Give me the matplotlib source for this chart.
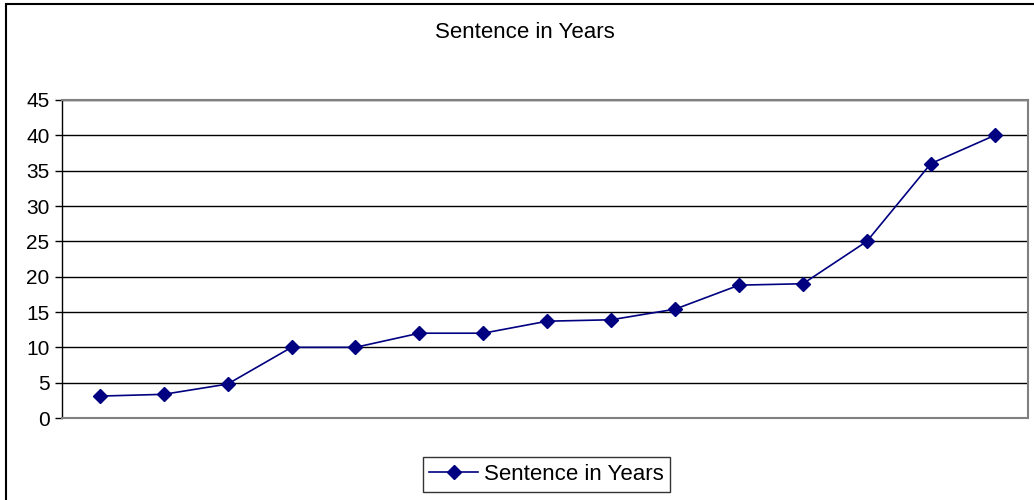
import matplotlib
matplotlib.use("Agg")
import matplotlib.pyplot as plt
from matplotlib.patches import Rectangle

plt.rcParams["font.family"] = ["Liberation Sans", "DejaVu Sans"]

# ---------------------------------------------------------------------
# Data
# ---------------------------------------------------------------------
CASES = list(range(1, 16))
SENTENCE_YEARS = [3.1, 3.35, 4.8, 10, 10, 12, 12, 13.7, 13.9, 15.4, 18.8, 19, 25, 36, 40]
Y_TICKS = [0, 5, 10, 15, 20, 25, 30, 35, 40, 45]
TITLE = "Sentence in Years"
SERIES_LABEL = "Sentence in Years"

NAVY = "#000080"

fig = plt.figure(figsize=(10.34, 5.0), dpi=100)
ax = fig.add_axes([62 / 1034, 82 / 500, (1028 - 62) / 1034, 318 / 500])

ax.plot(CASES, SENTENCE_YEARS, color=NAVY, linewidth=1.2, marker="D",
        markersize=7, markerfacecolor=NAVY, markeredgecolor=NAVY,
        label=SERIES_LABEL, zorder=3)

ax.set_xlim(0.41, len(CASES) + 0.52)
ax.set_ylim(0, 45)
ax.set_yticks(Y_TICKS)
ax.set_xticks([])
ax.tick_params(axis="y", direction="out", length=5, width=1, color="black",
               labelsize=15, pad=4)

# horizontal gridlines, black like Excel's default
for y in Y_TICKS[1:]:
    ax.axhline(y, color="black", linewidth=1.0, zorder=1)

for side in ("top", "right", "bottom"):
    ax.spines[side].set_color("#808080")
    ax.spines[side].set_linewidth(1.5)
ax.spines["left"].set_color("black")
ax.spines["left"].set_linewidth(1.0)

fig.text(525 / 1034, 1 - 32 / 500, TITLE, ha="center", va="center", fontsize=16)

fig.legend(loc="center", bbox_to_anchor=(546.5 / 1034, 1 - 474.5 / 500),
           fontsize=16, frameon=True, fancybox=False, edgecolor="black",
           handlelength=2.2, handletextpad=0.25, borderpad=0.3,
           borderaxespad=0)

# outer chart-area border (right/bottom are clipped off in the reference)
fig.patches.append(Rectangle((6 / 1034, -0.1), 1.2, 1.1 - 4 / 500,
                             transform=fig.transFigure, fill=False,
                             edgecolor="black", linewidth=1.5))

fig.savefig("out.png", dpi=100)
